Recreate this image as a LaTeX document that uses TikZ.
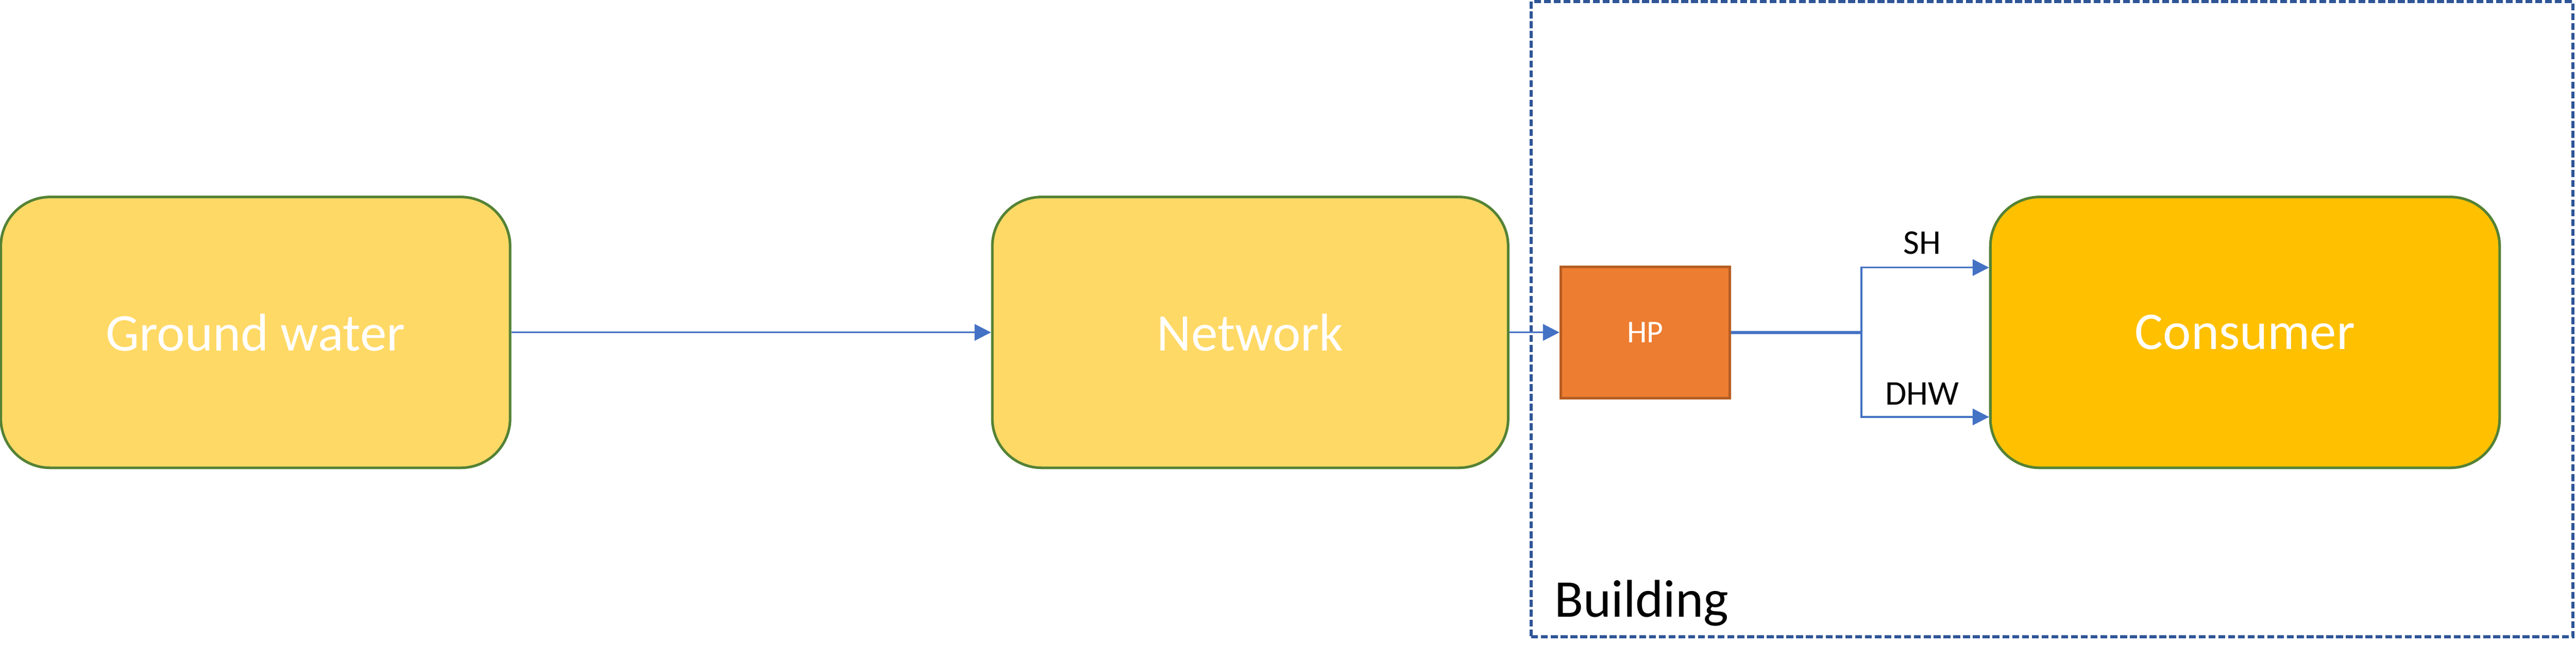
\documentclass[tikz,border=0pt]{standalone}
\usepackage{fontspec}
\setmainfont{Carlito}
\usetikzlibrary{positioning, arrows.meta}
\definecolor{boxyellow}{HTML}{FFD966}
\definecolor{consyellow}{HTML}{FFC000}
\definecolor{boxgreen}{HTML}{548235}
\definecolor{hporange}{HTML}{ED7D31}
\definecolor{hpborder}{HTML}{B55D22}
\definecolor{pipeblue}{HTML}{4472C4}
\definecolor{bldgblue}{HTML}{2F5597}

\begin{document}
\begin{tikzpicture}[
  block/.style={draw=boxgreen, line width=0.9pt, rounded corners=0.6cm, fill=boxyellow,
    minimum width=6.2cm, minimum height=3.3cm, text=white, font=\fontsize{18.4}{22}\selectfont},
  pump/.style={draw=hpborder, line width=0.9pt, fill=hporange, minimum width=2.06cm,
    minimum height=1.6cm, text=white, font=\fontsize{11}{13}\selectfont},
  flow/.style={draw=pipeblue, line width=0.6pt, -{Triangle[length=5.7pt,width=5.7pt]}},
  tag/.style={font=\fontsize{12}{14}\selectfont},
]
\useasboundingbox (0,0) rectangle (31.36,8.06);
%building
\node[draw=bldgblue, line width=1pt, dash pattern=on 2.4pt off 1pt, minimum width=12.68cm,
  minimum height=7.74cm, inner sep=0pt] (bldg) at (24.98,4.17) {};
\node[anchor=base west, font=\fontsize{18.4}{22}\selectfont] (bldglabel) at (18.8,0.54) {Building};
%blocks
\node[block] (gw) at (3.11,4.01) {Ground water};
\node[block, minimum width=6.28cm] (net) at (15.22,4.01) {Network};
\node[block, fill=consyellow] (cons) at (27.33,4.01) {Consumer};
\node[pump] (hp) at (20.03,4.01) {HP};
\coordinate (split) at (22.66,4.01);
\draw[flow] (gw) -- (net);
\draw[flow] (net) -- (hp);
\draw[draw=pipeblue, line width=1.1pt] (hp.east) -- (split);
\draw[flow] (split) |- ([yshift=0.79cm]cons.west);
\draw[flow] (split) |- ([yshift=-1.03cm]cons.west);
\node[tag] (sh) at (23.4,5.10) {SH};
\node[tag] (dhw) at (23.4,3.26) {DHW};
\end{tikzpicture}
\end{document}
